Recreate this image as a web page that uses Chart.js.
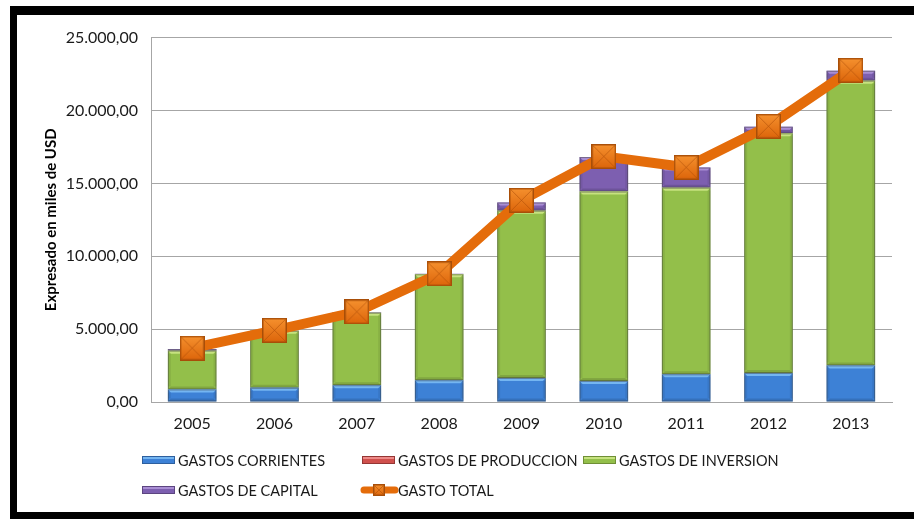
<!DOCTYPE html>
<html>
<head>
<meta charset="utf-8">
<script src="https://cdn.jsdelivr.net/npm/chart.js@4"></script>
<style>
  body { margin: 0; background: #fff; }
  #frame {
    position: absolute; left: 10px; top: 6px;
    width: 897px; height: 497px;
    border-left: 7px solid #000; border-top: 9px solid #000; border-bottom: 7px solid #000;
    background: #fff;
  }
</style>
</head>
<body>
<div id="frame"><canvas id="chart"></canvas></div>
<script>
const years = ['2005', '2006', '2007', '2008', '2009', '2010', '2011', '2012', '2013'];
const gastosCorrientes = [860, 970, 1150, 1490, 1650, 1445, 1900, 1990, 2510];
const gastosProduccion = [0, 0, 0, 0, 0, 0, 0, 0, 0];
const gastosInversion = [2660, 3910, 4970, 7270, 11470, 12990, 12800, 16440, 19530];
const gastosCapital = [115, 50, 60, 40, 560, 2370, 1380, 450, 680];
const gastoTotal = [3700, 4920, 6190, 8800, 13840, 16850, 16100, 18920, 22760];
const yTicks = [0, 5000, 10000, 15000, 20000, 25000];

const FONT = 'Lato, "DejaVu Sans", sans-serif';
const ORANGE = '#e46c0a';
// light colour used for the bevel strip on top of each bar
const bevelTop = ['#74b5f1', '#ee8a88', '#c6e27f', '#a98ed4'];

// 25.000,00 style
function fmt(v) {
  const parts = v.toFixed(2).split('.');
  return parts[0].replace(/\B(?=(\d{3})+(?!\d))/g, '.') + ',' + parts[1];
}

function makeMarker(size) {
  const c = document.createElement('canvas');
  c.width = size; c.height = size;
  const g = c.getContext('2d');
  const grad = g.createLinearGradient(0, 0, 0, size);
  grad.addColorStop(0, '#f6922f');
  grad.addColorStop(1, '#dc640a');
  g.fillStyle = grad;
  g.fillRect(0, 0, size, size);
  g.strokeStyle = 'rgba(170,75,5,0.55)';
  g.lineWidth = 1;
  g.beginPath();
  g.moveTo(2, 2); g.lineTo(size - 2, size - 2);
  g.moveTo(size - 2, 2); g.lineTo(2, size - 2);
  g.stroke();
  g.strokeStyle = '#a84e08';
  g.lineWidth = 1.5;
  g.strokeRect(0.75, 0.75, size - 1.5, size - 1.5);
  return c;
}
const marker = makeMarker(25);

// excel-ish bevel on the bars
const barBevel = {
  id: 'barBevel',
  afterDatasetDraw(chart, args) {
    const ds = chart.data.datasets[args.index];
    if (ds.type !== 'bar') return;
    const ctx = chart.ctx;
    ctx.save();
    args.meta.data.forEach(bar => {
      const { x, y, base, width } = bar.getProps(['x', 'y', 'base', 'width']);
      const h = base - y;
      if (h < 1.5) return;
      const l = x - width / 2, r = x + width / 2;
      const t = Math.min(3, h / 2);
      ctx.fillStyle = bevelTop[args.index];
      ctx.beginPath();
      ctx.moveTo(l, y); ctx.lineTo(r, y);
      ctx.lineTo(r - t, y + t); ctx.lineTo(l + t, y + t);
      ctx.closePath();
      ctx.fill();
      ctx.fillStyle = 'rgba(0,0,0,0.12)';
      ctx.beginPath();
      ctx.moveTo(l, base); ctx.lineTo(r, base);
      ctx.lineTo(r - t, base - t); ctx.lineTo(l + t, base - t);
      ctx.closePath();
      ctx.fill();
      ctx.fillStyle = 'rgba(0,0,0,0.07)';
      ctx.fillRect(l, y + t, t, h - 2 * t);
      ctx.fillRect(r - t, y + t, t, h - 2 * t);
      ctx.strokeStyle = 'rgba(60,60,60,0.45)';
      ctx.lineWidth = 1;
      ctx.strokeRect(l + 0.5, y + 0.5, width - 1, h - 1);
    });
    ctx.restore();
  }
};

// legend laid out in a 3 column grid like the original
const gridLegend = {
  id: 'gridLegend',
  afterDraw(chart) {
    const ctx = chart.ctx;
    const cols = [125, 345, 566];
    const rows = [445, 475];
    ctx.save();
    ctx.font = '14.5px ' + FONT;
    ctx.textBaseline = 'middle';
    chart.data.datasets.forEach((ds, i) => {
      const x = cols[i % 3];
      const y = rows[Math.floor(i / 3)];
      if (ds.type === 'line') {
        ctx.strokeStyle = ds.borderColor;
        ctx.lineWidth = 7;
        ctx.lineCap = 'round';
        ctx.beginPath();
        ctx.moveTo(x + 2, y); ctx.lineTo(x + 33, y);
        ctx.stroke();
        ctx.drawImage(makeMarker(12), x + 11, y - 6);
      } else {
        ctx.fillStyle = ds.backgroundColor;
        ctx.fillRect(x, y - 4, 33, 8);
        ctx.fillStyle = bevelTop[i];
        ctx.fillRect(x + 1, y - 3, 31, 2);
        ctx.strokeStyle = ds.borderColor;
        ctx.lineWidth = 1;
        ctx.strokeRect(x + 0.5, y - 3.5, 32, 7);
      }
      ctx.fillStyle = '#1a1a1a';
      ctx.fillText(ds.label, x + 36, y + 1);
    });
    ctx.restore();
  }
};

const ctx = document.getElementById('chart').getContext('2d');
new Chart(ctx, {
  data: {
    labels: years,
    datasets: [
      { type: 'bar', label: 'GASTOS CORRIENTES', data: gastosCorrientes, backgroundColor: '#3d81d6', borderColor: '#2d5f9e', borderWidth: 0, order: 1 },
      { type: 'bar', label: 'GASTOS DE PRODUCCION', data: gastosProduccion, backgroundColor: '#d0504d', borderColor: '#943634', borderWidth: 0, order: 1 },
      { type: 'bar', label: 'GASTOS DE INVERSION', data: gastosInversion, backgroundColor: '#93bf4a', borderColor: '#6f8f35', borderWidth: 0, order: 1 },
      { type: 'bar', label: 'GASTOS DE CAPITAL', data: gastosCapital, backgroundColor: '#7d5fb0', borderColor: '#5c4580', borderWidth: 0, order: 1 },
      {
        type: 'line', label: 'GASTO TOTAL', data: gastoTotal, stack: 'total',
        borderColor: ORANGE, borderWidth: 10, tension: 0,
        pointStyle: marker, pointRadius: 12, pointHoverRadius: 12,
        order: 0
      }
    ]
  },
  options: {
    responsive: true,
    maintainAspectRatio: false,
    animation: false,
    layout: { padding: { left: 0, right: 15, top: 18, bottom: 0 } },
    datasets: { bar: { barPercentage: 0.59, categoryPercentage: 1 } },
    plugins: { legend: { display: false }, tooltip: { enabled: false } },
    scales: {
      x: {
        stacked: true,
        grid: { display: false, drawTicks: false },
        border: { color: '#a6a6a6' },
        ticks: { color: '#1a1a1a', font: { family: FONT, size: 16 }, padding: 12 },
        afterFit(scale) { scale.height = 110; }
      },
      y: {
        stacked: true,
        min: 0, max: 25000,
        afterBuildTicks(scale) { scale.ticks = yTicks.map(v => ({ value: v })); },
        grid: { color: '#a6a6a6', drawTicks: false },
        border: { color: '#a6a6a6' },
        ticks: { color: '#1a1a1a', font: { family: FONT, size: 16 }, padding: 13, callback: v => fmt(v) },
        title: {
          display: true, text: 'Expresado en miles de USD', color: '#000',
          font: { family: FONT, size: 15, weight: 'bold' }, padding: { top: 25, bottom: 0 }
        },
        afterFit(scale) { scale.width = 134; }
      }
    }
  },
  plugins: [barBevel, gridLegend]
});
</script>
</body>
</html>
